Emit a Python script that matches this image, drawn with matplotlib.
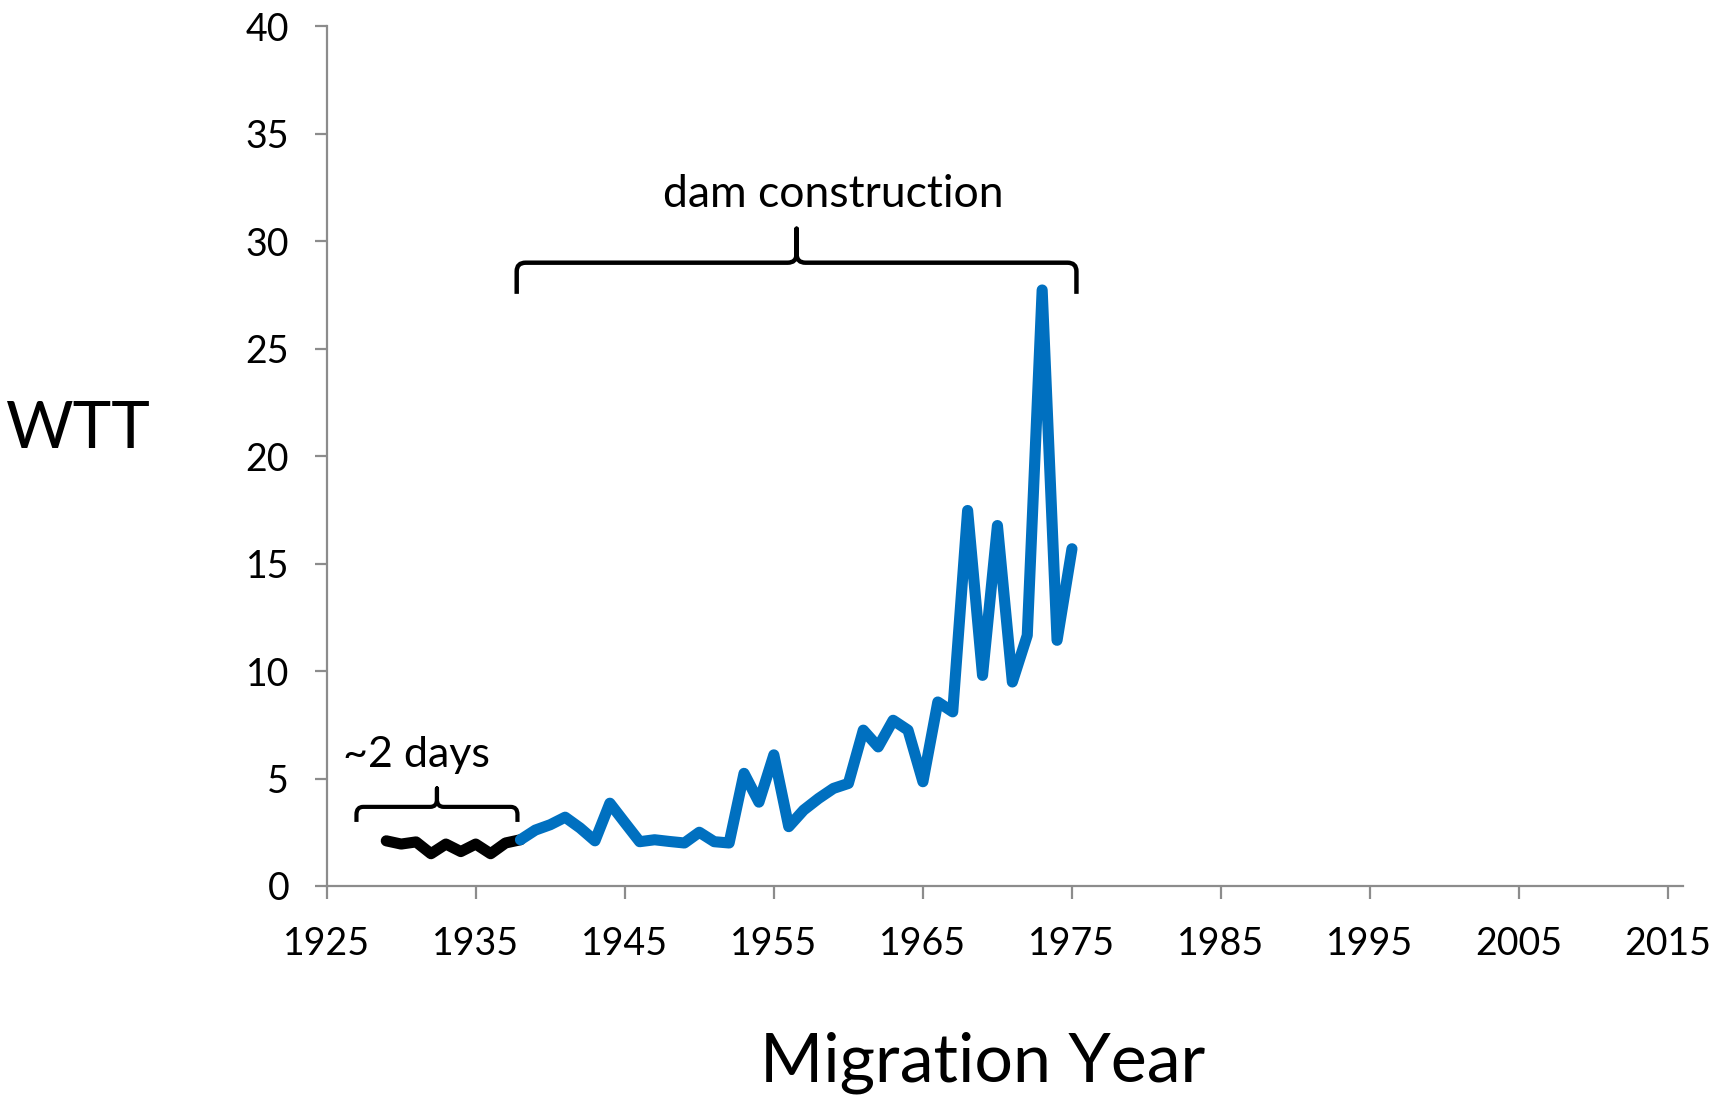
import matplotlib
matplotlib.use("Agg")
import matplotlib.pyplot as plt
from matplotlib.path import Path
from matplotlib.patches import PathPatch

plt.rcParams['font.family'] = ['Lato', 'DejaVu Sans']

# ---- data ----
years_pre = [1929, 1930, 1931, 1932, 1933, 1934, 1935, 1936, 1937, 1938]
wtt_pre = [2.1, 1.95, 2.05, 1.5, 1.95, 1.6, 1.95, 1.5, 2.0, 2.15]

years_dam = [1938, 1939, 1940, 1941, 1942, 1943, 1944, 1945, 1946, 1947,
             1948, 1949, 1950, 1951, 1952, 1953, 1954, 1955, 1956, 1957,
             1958, 1959, 1960, 1961, 1962, 1963, 1964, 1965, 1966, 1967,
             1968, 1969, 1970, 1971, 1972, 1973, 1974, 1975]
wtt_dam = [2.15, 2.6, 2.85, 3.2, 2.7, 2.1, 3.85, 2.95, 2.06, 2.15,
           2.07, 2.0, 2.5, 2.06, 2.0, 5.24, 3.9, 6.1, 2.76, 3.53,
           4.07, 4.54, 4.77, 7.25, 6.47, 7.71, 7.25, 4.85, 8.56, 8.1,
           17.47, 9.8, 16.77, 9.49, 11.66, 27.73, 11.43, 15.69]

x_ticks = [1925, 1935, 1945, 1955, 1965, 1975, 1985, 1995, 2005, 2015]
y_ticks = [0, 5, 10, 15, 20, 25, 30, 35, 40]

x_label = "Migration Year"
y_label = "WTT"
pre_label = "~2 days"
dam_label = "dam construction"

# bracket spans (years)
pre_span = (1927.0, 1937.8)
dam_span = (1937.75, 1975.3)

# ---- figure ----
fig = plt.figure(figsize=(17.21, 10.95), dpi=100)
ax = fig.add_axes([0.1898, 0.1909, 0.978 - 0.1898, 0.976 - 0.1909])

ax.plot(years_pre, wtt_pre, color='black', lw=8, solid_joinstyle='round',
        solid_capstyle='round', zorder=3)
ax.plot(years_dam, wtt_dam, color='#0070C0', lw=8, solid_joinstyle='round',
        solid_capstyle='round', zorder=3)

ax.set_xlim(1925, 2016)
ax.set_ylim(0, 40)
ax.set_xticks(x_ticks)
ax.set_yticks(y_ticks)

axis_gray = '#8C8C8C'
for s in ['top', 'right']:
    ax.spines[s].set_visible(False)
for s in ['left', 'bottom']:
    ax.spines[s].set_color(axis_gray)
    ax.spines[s].set_linewidth(1.6)
ax.tick_params(axis='both', direction='out', length=9, width=1.6,
               color=axis_gray, labelsize=27, labelcolor='black')
ax.tick_params(axis='x', pad=20)
ax.tick_params(axis='y', pad=18)


def curly_bracket(ax, x0, x1, y, drop, tip, rx, ry, lw):
    xm = (x0 + x1) / 2
    verts = [
        (x0, y - drop), (x0, y - ry), (x0, y), (x0 + rx, y),
        (xm - rx, y), (xm, y), (xm, y + ry), (xm, y + tip),
        (xm, y + ry), (xm, y), (xm + rx, y),
        (x1 - rx, y), (x1, y), (x1, y - ry), (x1, y - drop),
    ]
    codes = [
        Path.MOVETO, Path.LINETO, Path.CURVE3, Path.CURVE3,
        Path.LINETO, Path.CURVE3, Path.CURVE3, Path.LINETO,
        Path.LINETO, Path.CURVE3, Path.CURVE3,
        Path.LINETO, Path.CURVE3, Path.CURVE3, Path.LINETO,
    ]
    patch = PathPatch(Path(verts, codes), fill=False, edgecolor='black',
                      lw=lw, capstyle='butt', joinstyle='round',
                      clip_on=False, zorder=4)
    ax.add_patch(patch)
    return xm


curly_bracket(ax, pre_span[0], pre_span[1], 3.68, 0.7, 0.86, 0.45, 0.35, 3.0)
curly_bracket(ax, dam_span[0], dam_span[1], 29.0, 1.45, 1.58, 0.6, 0.4, 3.2)

ax.text(1931.05, 5.52, pre_label, fontsize=31, ha='center', va='baseline')
ax.text(1959.0, 31.6, dam_label, fontsize=32, ha='center', va='baseline')

fig.text(78 / 1721, 1 - 448 / 1095, y_label, fontsize=47, ha='center',
         va='baseline')
fig.text(983 / 1721, 1 - 1081 / 1095, x_label, fontsize=49, ha='center',
         va='baseline')

fig.savefig("out.png", dpi=100)
